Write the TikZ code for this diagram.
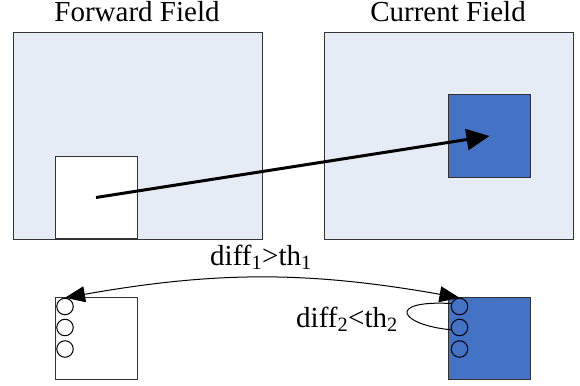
\documentclass[tikz,border=0pt]{standalone}
\usepackage{fontspec}
\setmainfont{Liberation Serif}
\usetikzlibrary{arrows.meta}
\definecolor{fieldbg}{HTML}{E6ECF6}
\definecolor{blkblue}{HTML}{4472C4}
\begin{document}
\begin{tikzpicture}[x=1pt,y=-1pt,line width=1pt,
  every node/.style={font=\fontsize{29}{31}\selectfont},
  lbl/.style={anchor=base,inner sep=0pt},
  field/.style={draw=black!80,fill=fieldbg,minimum width=249pt,minimum height=206pt,inner sep=0pt},
  blk/.style={draw=black!80,minimum width=82pt,minimum height=82pt,inner sep=0pt},
  pix/.style={circle,draw,minimum size=16.5pt,inner sep=0pt},
  bigtip/.style={-{Triangle[length=23pt,width=21pt]}},
  smalltips/.style={{Triangle[length=20pt,width=16pt]}-{Triangle[length=20pt,width=16pt]}}]
\useasboundingbox (0,0) rectangle (580,385);
\node[field] (fwd) at (137.5,136) {};
\node[field] (cur) at (448.5,136) {};
\node[lbl] (fwdtitle) at (137,22) {Forward Field};
\node[lbl] (curtitle) at (448,22) {Current Field};
\node[blk,fill=white] (fblk) at (96,197.5) {};
\node[blk,fill=blkblue] (cblk) at (489.5,136) {};
\draw[bigtip,line width=3pt] (fblk.center) -- (cblk.center);
\node[blk,fill=white] (lblk) at (96,338) {};
\node[blk,fill=blkblue] (rblk) at (489.5,338) {};
\node[pix] (lp1) at (65,306.5) {};
\node[pix] (lp2) at (65,327.5) {};
\node[pix] (lp3) at (65,349) {};
\node[pix] (rp1) at (459.5,306.5) {};
\node[pix] (rp2) at (459.5,327.5) {};
\node[pix] (rp3) at (459.5,349) {};
\draw[smalltips] (lp1.north) to[bend left=10] (rp1.north);
\node[lbl] (cond1) at (261,265) {diff\textsubscript{1}>th\textsubscript{1}};
\draw (rp1.160) .. controls (385,300) and (400,325) .. (rp2.195);
\node[lbl] (cond2) at (347,327) {diff\textsubscript{2}<th\textsubscript{2}};
\end{tikzpicture}
\end{document}
